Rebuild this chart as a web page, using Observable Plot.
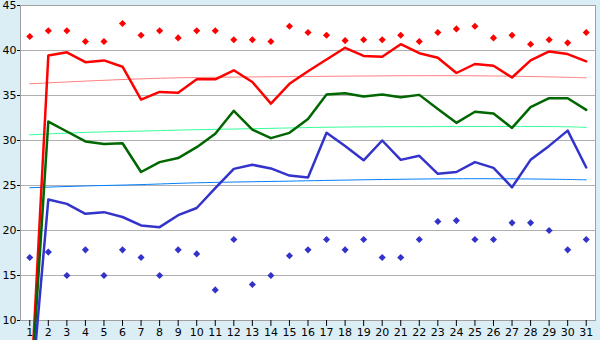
<!DOCTYPE html>
<html><head><meta charset="utf-8">
<script src="https://cdn.jsdelivr.net/npm/d3@7"></script>
<script src="https://cdn.jsdelivr.net/npm/@observablehq/plot@0.6"></script>
<style>body{margin:0;background:#dbeef6;} #chart svg{display:block;}</style>
</head><body><div id="chart"></div>
<script>
const days = [1,2,3,4,5,6,7,8,9,10,11,12,13,14,15,16,17,18,19,20,21,22,23,24,25,26,27,28,29,30,31];
const yTicks = [10,15,20,25,30,35,40,45];
const gridTicks = [15,20,25,30,35,40];

const redLine = [0,39.45,39.8,38.7,38.9,38.2,34.55,35.4,35.3,36.8,36.8,37.8,36.5,34.1,36.3,37.7,39.0,40.3,39.4,39.3,40.7,39.7,39.2,37.5,38.5,38.3,37.0,38.9,39.9,39.6,38.8];
const greenLine = [0,32.1,31.0,29.9,29.6,29.7,26.5,27.6,28.05,29.26,30.75,33.3,31.2,30.26,30.85,32.4,35.1,35.26,34.9,35.1,34.8,35.07,33.5,31.96,33.2,33.0,31.4,33.7,34.7,34.7,33.4];
const blueLine = [0,23.45,22.96,21.85,22.04,21.5,20.56,20.37,21.7,22.5,24.7,26.85,27.3,26.9,26.1,25.9,30.85,29.4,27.8,30.0,27.85,28.3,26.3,26.5,27.6,26.96,24.8,27.85,29.4,31.1,27.0];
const redPoints = [41.55,42.2,42.2,41.0,41.0,43.0,41.7,42.2,41.4,42.2,42.2,41.2,41.2,41.0,42.7,42.0,41.7,41.1,41.2,41.2,41.7,41.0,42.0,42.4,42.7,41.4,41.7,40.7,41.2,40.85,42.0];
const bluePoints = [17.0,17.6,15.0,17.85,15.0,17.85,17.0,15.0,17.85,17.4,13.4,19.0,14.0,15.0,17.2,17.85,19.0,17.85,19.0,17.0,17.0,19.0,21.0,21.1,19.0,19.0,20.85,20.85,20.0,17.85,19.0];

// trend lines, read at a few days
const trendDays = [1,4,7,10,14,18,24,29,31];
const redTrend = [36.3,36.6,36.85,37.0,37.08,37.15,37.2,37.07,36.96];
const greenTrend = [30.63,30.9,31.05,31.2,31.35,31.5,31.55,31.55,31.45];
const blueTrend = [24.75,24.95,25.1,25.3,25.45,25.6,25.75,25.7,25.63];

const toRows = (xs, ys) => xs.map((x, i) => ({x, y: ys[i]}));

const plot = Plot.plot({
  width: 600, height: 340,
  marginLeft: 20, marginRight: 5, marginTop: 5, marginBottom: 20,
  style: {background: "#dbeef6", fontFamily: "DejaVu Sans", fontSize: "11px", color: "#000"},
  x: {domain: [0.5, 31.5], label: null},
  y: {domain: [10, 45], label: null},
  marks: [
    Plot.frame({fill: "white"}),
    Plot.ruleY(gridTicks, {stroke: "#b0b0b0", strokeWidth: 1}),
    Plot.frame({stroke: "#a0a0a0"}),
    Plot.axisX({ticks: days, tickSize: 6, tickPadding: 2, tickFormat: d => String(d), stroke: "#000", fill: "#000", label: null}),
    Plot.axisY({ticks: yTicks, tickSize: 3, tickPadding: 1, stroke: "#000", fill: "#000", label: null}),
    Plot.line(toRows(trendDays, redTrend), {x: "x", y: "y", stroke: "#ff8080", strokeWidth: 1, curve: "natural"}),
    Plot.line(toRows(trendDays, greenTrend), {x: "x", y: "y", stroke: "#33ff99", strokeWidth: 1, curve: "natural"}),
    Plot.line(toRows(trendDays, blueTrend), {x: "x", y: "y", stroke: "#0080ff", strokeWidth: 1, curve: "natural"}),
    Plot.line(toRows(days, redLine), {x: "x", y: "y", stroke: "#ff0000", strokeWidth: 2.5}),
    Plot.line(toRows(days, greenLine), {x: "x", y: "y", stroke: "#006600", strokeWidth: 2.5}),
    Plot.line(toRows(days, blueLine), {x: "x", y: "y", stroke: "#3333cc", strokeWidth: 2.5}),
    Plot.dot(toRows(days, redPoints), {x: "x", y: "y", symbol: "diamond2", r: 3.2, fill: "#ff0000", stroke: "none"}),
    Plot.dot(toRows(days, bluePoints), {x: "x", y: "y", symbol: "diamond2", r: 3.2, fill: "#3333cc", stroke: "none"})
  ]
});
document.getElementById("chart").appendChild(plot);
</script>
</body></html>
